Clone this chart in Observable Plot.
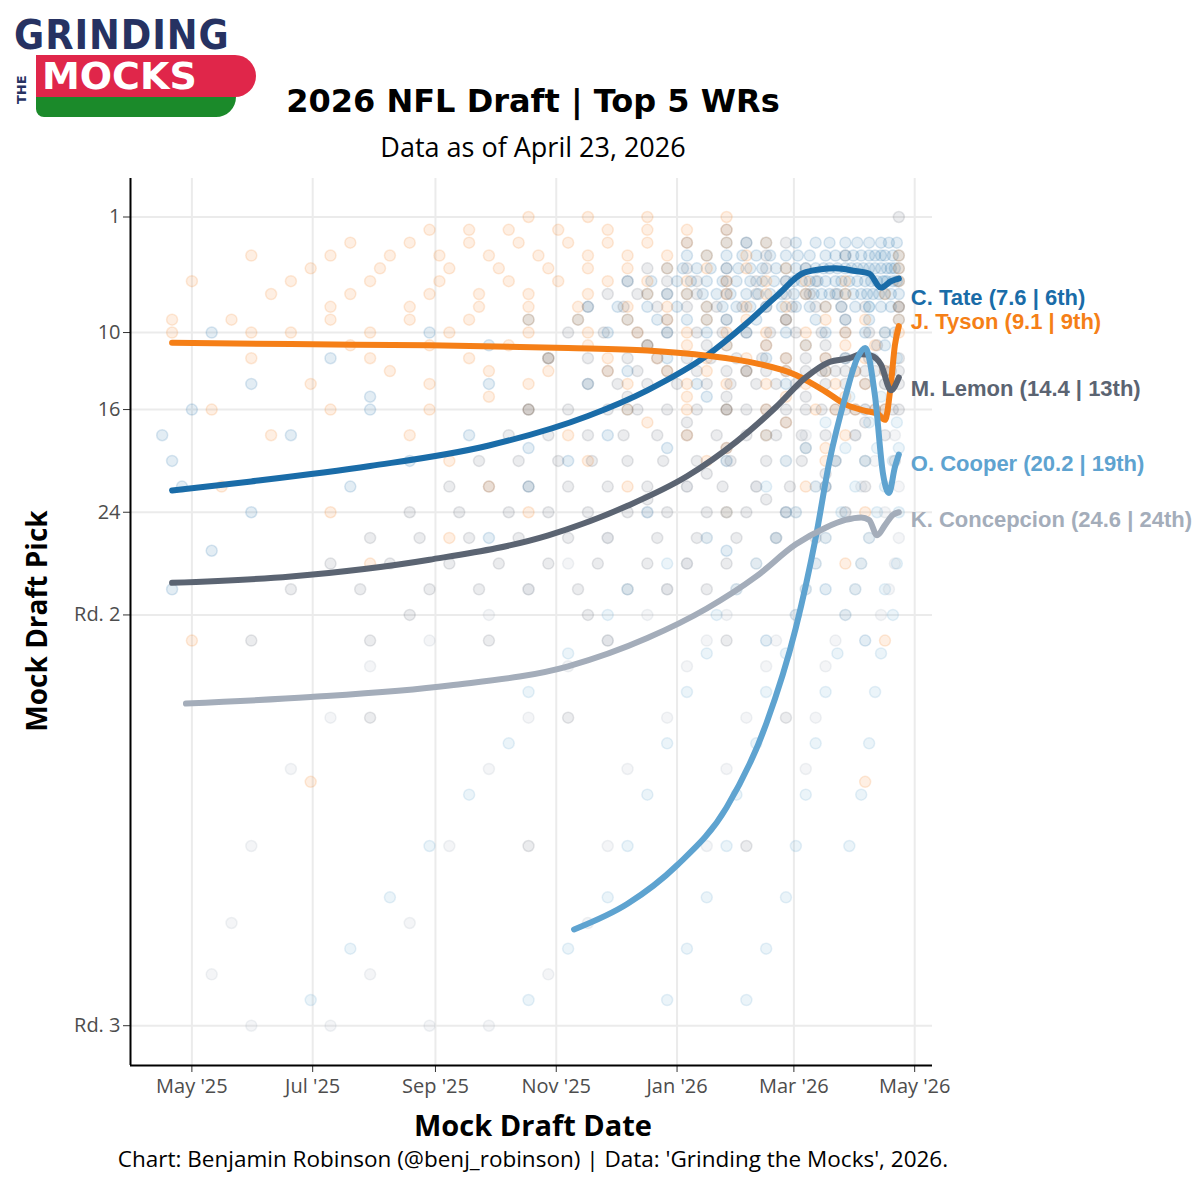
<!DOCTYPE html>
<html><head><meta charset="utf-8">
<script src="https://cdn.jsdelivr.net/npm/d3@7"></script>
<script src="https://cdn.jsdelivr.net/npm/@observablehq/plot@0.6"></script>
<style>
body{margin:0;background:#fff;font-family:"Open Sans",sans-serif}
#wrap{position:relative;width:1200px;height:1200px}
.a{position:absolute;white-space:nowrap}
</style></head><body><div id="wrap">
<div class="a" style="left:14px;top:12px;font:900 40px 'DejaVu Sans';color:#263262;letter-spacing:1px;transform:scaleX(0.92);transform-origin:left">GRINDING</div>
<div class="a" style="left:14px;top:58px;font:900 13px 'DejaVu Sans';color:#263262;transform:rotate(-90deg) translate(-46px,0);transform-origin:left top">THE</div>
<div class="a" style="left:36px;top:55px;width:214px;height:42px;background:#e0264a;border-radius:0 22px 22px 0;font:900 38px 'DejaVu Sans';color:#fff;line-height:42px;padding-left:6px">MOCKS</div>
<div class="a" style="left:36px;top:97px;width:200px;height:20px;background:#1b8a2a;border-radius:0 0 100px 40px"></div>
<div class="a" style="left:533px;top:82px;transform:translateX(-50%);font:bold 32px 'DejaVu Sans'">2026 NFL Draft | Top 5 WRs</div>
<div class="a" style="left:533px;top:128px;transform:translateX(-50%);font:27px 'Open Sans'">Data as of April 23, 2026</div>
<div class="a" style="left:533px;top:1105px;transform:translateX(-50%);font:bold 29px 'Open Sans'">Mock Draft Date</div>
<div class="a" style="left:533px;top:1143px;transform:translateX(-50%);font:22.5px 'Open Sans'">Chart: Benjamin Robinson (@benj_robinson) | Data: 'Grinding the Mocks', 2026.</div>
<div class="a" style="left:36px;top:621px;transform:translate(-50%,-50%) rotate(-90deg);font:bold 28px 'Open Sans'">Mock Draft Pick</div>
</div>
<script>
const players=["C. Tate","J. Tyson","M. Lemon","O. Cooper","K. Concepcion"];
const colors=["#1a6ca8","#f57f17","#5b6472","#5ea3d0","#a4adba"];
const labels=["C. Tate (7.6 | 6th)","J. Tyson (9.1 | 9th)","M. Lemon (14.4 | 13th)","O. Cooper (20.2 | 19th)","K. Concepcion (24.6 | 24th)"];
const labelPick=[7.3,9.2,14.4,20.2,24.6];
// day offsets from 2025-04-01 ; smooth trend values
const tateDays=[20,60,120,180,230,260,290,310,325,340,355,365,372,378,383,387];
const tatePick=[22.3,21.6,20.4,18.8,16.5,14.5,11.8,9.3,7.2,5.3,5.0,5.2,5.4,6.5,6.0,5.8];
const tysonDays=[20,80,150,220,260,290,315,335,350,360,370,376,380,383,385,387];
const tysonPick=[10.8,10.9,11.0,11.2,11.4,11.8,12.4,13.3,14.6,15.6,16.1,16.3,16.8,14,11,9.5];
const lemonDays=[20,80,150,210,250,280,305,325,340,352,362,368,373,378,383,387];
const lemonPick=[29.5,29.0,27.7,25.8,23.5,21.2,18.5,15.8,13.5,12.3,12.0,11.7,11.8,12.5,14.5,13.5];
const cooperDays=[223,250,275,300,320,335,345,352,360,366,370,375,379,382,385,387];
const cooperPick=[56.5,54.5,51.5,47,40.5,33,26,20,15,12,11.2,15,21,22.5,20.5,19.5];
const concDays=[27,90,160,220,260,290,315,335,350,360,368,372,376,380,384,387];
const concPick=[38.9,38.4,37.5,36,33.8,31.5,29,26.5,25.2,24.6,24.4,24.6,25.8,25,24.2,24.0];
// sampled mock picks per player: "pick:day,day,..." rows
const tatePts="3:300,310,320,335,345,352,360,366,372,378,382,386;4:280,290,300,308,315,322,330,336,342,350,355,360,364,368,372,375,378,380,384,387;5:270,278,285,292,300,306,312,318,325,330,335,340,345,349,352,356,360,363,366,369,372,375,378,381,383,385,387;6:250,262,275,282,290,298,305,312,318,324,330,334,338,342,346,350,355,358,362,366,370,373,376,379,381,384,386,387;7:260,270,280,288,295,302,310,316,322,328,334,340,344,348,352,356,360,364,368,371,374,377,380,383,387;8:230,245,260,275,290,298,305,312,320,328,335,342,350,358,365,372,378,383,387;9:200,225,250,265,280,290,300,315,330,345,360,372,387;10:40,150,240,270,290,310,330,350,370,385;11:180,260,300,340,380;12:100,210,270,320,360;13:250,310,350;14:60,180,230,285,330;15:120,290;16:30,120,200,250,300;18:15,80,170,240,320;19:200,270;20:20,140,220,300;22:25,110,200,350;24:60,260,330;26:180;27:40,300;30:20,350;34:320,370";
const tysonPts="1:200,230,260,300;2:150,170,190,215,240,260,280,300;3:110,140,170,195,220,240,260,280,300,320;4:60,100,130,155,180,205,230,250,270,290,310,387;5:90,125,160,185,210,230,250,270,290,310,330,387;6:30,80,120,155,190,215,240,260,280,300,320,340,360,387;7:70,110,150,175,200,230,260,280,300,320,340,360,380;8:100,140,175,200,225,250,270,290,310,330,350,387;9:20,50,100,140,170,200,225,250,270,290,310,330,350,370,387;10:20,60,80,120,160,200,230,255,280,300,320,340,360,387;11:110,150,190,230,260,280,300,320,340,360,375;12:60,120,170,210,240,265,290,310,330,350,370;13:130,180,210,240,270,290,310,330,350,365,380;14:90,150,200,250,280,300,320,340,355,370;15:180,280,330,360;16:40,100,150,200,250,280,300,320,345,355,365,375,380;17:260,330;18:70,140,220,280,320,360;19:300,350;20:160,230,290,350;22:45,180,250,340;24:100,200,300,370;26:160;28:120,360;34:30,380;45:90,370";
const lemonPts="1:387;2:300;3:280,310,330;4:320,360;5:260,280,300,320,340;6:250,270,285,300,315,330,345;7:240,255,270,285,300,315,330,342,355;8:230,248,265,280,295,308,320,333,345,358,370,387;9:270,300,330,360;10:220,238,255,270,285,298,310,322,335,348,360,372,380;11:260,290,320,350,376;12:210,230,250,265,280,292,305,318,330,340,350,360,372,387;13:240,255,270,285,300,310,320,330,340,348,355,360,365,370,375,380,383,387;14:230,245,260,275,290,302,315,325,335,350,360,370,380,387;15:250,300,340;16:200,220,240,255,270,285,300,310,320,330,340,348,355,360,365,370,375,380,384,387;17:280,330,370;18:190,210,230,248,265,280,295,310,325,338,350,365,380;19:300,340;20:175,195,215,232,250,268,285,302,320,338,355,370,385;21:290,350;22:160,180,200,220,240,260,280,298,315,332,350,370;23:260,320;24:140,165,190,210,230,250,270,290,310,330,360;26:120,145,170,195,220,240,265,285,305,325,345;28:100,130,160,185,210,235,260,280,300;30:80,115,150,175,200,225,250,270,290;32:140,230;34:60,120,180,240,300;40:120,220,330;50:200,310";
const cooperPts="6:380;8:372;10:380;12:374,386;15:362,378;17:350,372,386;19:340,360,376,387;20:330,355,370,384;22:320,345,365,380;24:300,335,358,376,387;26:290,325,350,372;28:270,315,345,368,386;30:250,305,340,365,380;32:240,295,335,360,384;35:220,290,330,356,378;38:200,280,320,350,375;42:190,270,315,345,372;46:170,260,305,340,368;50:150,250,300,335,362;54:130,240,290,330;58:110,220,280,320;62:90,200,270,310";
const concPts="14:380;16:370;18:340,365,385;20:300,330,355,375;22:280,315,345,368,387;24:260,300,335,360,380;26:240,290,325,350,372,387;28:220,280,315,345,368,385;30:200,270,305,340,365,382;32:180,260,300,335,360,378;34:150,240,290,325,355;36:120,220,280,320,350;40:100,200,270,310,345;44:80,180,250,300,340;50:60,160,240,290;56:50,140,230;60:40,120,210;64:60,100,150,180";
const base=new Date(2025,3,1);
const dt=d=>new Date(base.getTime()+d*864e5);
function parsePts(s,p){const out=[];s.split(";").forEach(r=>{const [k,v]=r.split(":");v.split(",").forEach(d=>out.push({date:dt(+d),pick:+k,p}));});return out;}
const pts=[tatePts,tysonPts,lemonPts,cooperPts,concPts].flatMap((s,i)=>parsePts(s,players[i]));
const lineSets=[[tateDays,tatePick],[tysonDays,tysonPick],[lemonDays,lemonPick],[cooperDays,cooperPick],[concDays,concPick]];
const lines=lineSets.flatMap(([ds,ps],i)=>ds.map((d,j)=>({date:dt(d),pick:ps[j],p:players[i]})));
const lab=players.map((p,i)=>({date:dt(387),pick:labelPick[i],p,t:labels[i]}));
const yTicks=[1,10,16,24,32,64];
const yFmt=v=>v===32?"Rd. 2":v===64?"Rd. 3":String(v);
const xTicks=[new Date(2025,4,1),new Date(2025,6,1),new Date(2025,8,1),new Date(2025,10,1),new Date(2026,0,1),new Date(2026,2,1),new Date(2026,4,1)];
const x0=new Date(2025,2,31), x1=new Date(2026,4,10);
const chart=Plot.plot({
 width:1200,height:1200,marginTop:178,marginLeft:130,marginRight:268,marginBottom:135,
 style:{fontFamily:"'Open Sans',sans-serif",fontSize:"20px",color:"#4d4d4d",overflow:"visible"},
 x:{type:"time",domain:[x0,x1],label:null},
 y:{domain:[67.1,-2],label:null},
 color:{domain:players,range:colors},
 marks:[
  Plot.gridX(xTicks,{stroke:"#ebebeb",strokeOpacity:1,strokeWidth:2}),
  Plot.gridY(yTicks,{stroke:"#ebebeb",strokeOpacity:1,strokeWidth:2}),
  Plot.dot(pts,{x:"date",y:"pick",fill:"p",stroke:"p",fillOpacity:0.12,strokeOpacity:0.16,r:5.5}),
  Plot.line(lines,{x:"date",y:"pick",z:"p",stroke:"p",strokeWidth:6,curve:"monotone-x"}),
  Plot.text(lab,{x:"date",y:"pick",text:"t",fill:"p",textAnchor:"start",dx:12,fontSize:22,fontWeight:"bold",fontFamily:"'Liberation Sans',Arial"}),
  Plot.axisX(xTicks,{tickFormat:d3.timeFormat("%b '%y"),fontSize:20,tickSize:7,tickPadding:6,stroke:"#333"}),
  Plot.axisY(yTicks,{tickFormat:yFmt,fontSize:20,tickSize:7,stroke:"#333"}),
  Plot.ruleX([x0],{stroke:"black",strokeWidth:2}),
  Plot.ruleY([67.1],{stroke:"black",strokeWidth:2})
 ]});
chart.style.position="absolute";chart.style.left="0";chart.style.top="0";
document.getElementById("wrap").prepend(chart);
</script></body></html>
